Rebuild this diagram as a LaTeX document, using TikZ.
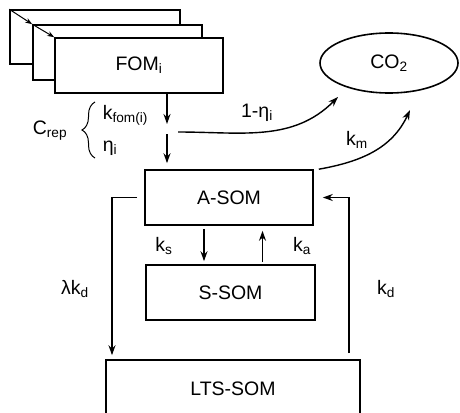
\documentclass[tikz,border=0pt]{standalone}
\usepackage{fontspec}
\setmainfont{Liberation Sans}
\usetikzlibrary{arrows.meta,shapes.geometric,decorations.pathreplacing,positioning}

\begin{document}
\begin{tikzpicture}[x=1pt,y=-1pt,
    font=\fontsize{19.5}{23}\selectfont,
    line width=1.6pt,
    pool/.style={draw, fill=white, minimum width=168pt, minimum height=55pt, inner sep=0pt},
    flow/.style={-{Stealth[length=10pt,width=7pt]}},
    rate/.style={inner sep=1pt}]
\useasboundingbox (0,0) rectangle (460,412);
% pools
\node[pool, minimum width=170pt, minimum height=54pt] (fomc) at (95,37) {};
\node[pool, minimum width=169pt] (fomb) at (117.5,52.5) {};
\node[pool] (fom) at (139,65.5) {FOM\textsubscript{i}};
\node[draw, ellipse, minimum width=138pt, minimum height=60pt, inner sep=0pt] (co2) at (389,63) {CO\textsubscript{2}};
\node[pool] (asom) at (229,197.5) {A-SOM};
\node[pool, minimum width=169pt] (ssom) at (230.5,292.5) {S-SOM};
\node[pool, minimum width=254pt, minimum height=58pt] (lts) at (233,389) {LTS-SOM};
% helper points
\coordinate (splita) at (167,124);
\coordinate (splitb) at (167,134);
\coordinate (resp) at (178,132);
\coordinate (respend) at (338,97);
\coordinate (kmend) at (410,110);
\coordinate (lamx) at (112,198);
\coordinate (kdx) at (349,198);
\coordinate (brbot) at (95,158);
\coordinate (brtop) at (95,102);
% stacked FOM pools
\draw[line width=1pt, -{Stealth[length=7pt,width=5pt]}] (fomc.north west) -- (fomb.north west);
\draw[line width=1pt, -{Stealth[length=7pt,width=5pt]}] (fomb.north west) -- (fom.north west);
% fluxes
\draw[flow] (fom.south -| splita) -- (splita);
\draw[flow, shorten >=6pt] (splitb) -- (splitb |- asom.north);
\draw[flow, line width=1.4pt] (resp) to[out=0, in=-135] (respend);
\draw[flow, line width=1.4pt] ([xshift=5pt]asom.north east) to[out=10, in=-115] (kmend);
\draw[flow, shorten <=3pt, shorten >=3pt] ([xshift=-25pt]asom.south) -- ([xshift=-25pt]asom.south |- ssom.north);
\draw[flow, shorten <=2pt, shorten >=5pt] ([xshift=32pt]ssom.north) -- ([xshift=32pt]ssom.north |- asom.south);
\draw[flow, shorten <=7pt, shorten >=4pt] (asom.west) -| (lamx |- lts.north);
\draw[flow, shorten <=6pt, shorten >=9pt] (kdx |- lts.north) |- (asom.east);
% labels
\draw[decorate, decoration={brace, amplitude=13pt}, line width=1pt] (brbot) -- (brtop);
\node[rate] (crep) at (50,131) {C\textsubscript{rep}};
\node[rate, anchor=west] (kfom) at (101,115) {k\textsubscript{fom(i)}};
\node[rate, anchor=west] (eta) at (101,148) {η\textsubscript{i}};
\node[rate] (loss) at (257,113) {1-η\textsubscript{i}};
\node[rate] (km) at (357,140) {k\textsubscript{m}};
\node[rate] (ks) at (164,246) {k\textsubscript{s}};
\node[rate] (ka) at (302,246) {k\textsubscript{a}};
\node[rate] (lamkd) at (75,289) {λk\textsubscript{d}};
\node[rate] (kd) at (386,289) {k\textsubscript{d}};
\end{tikzpicture}
\end{document}
